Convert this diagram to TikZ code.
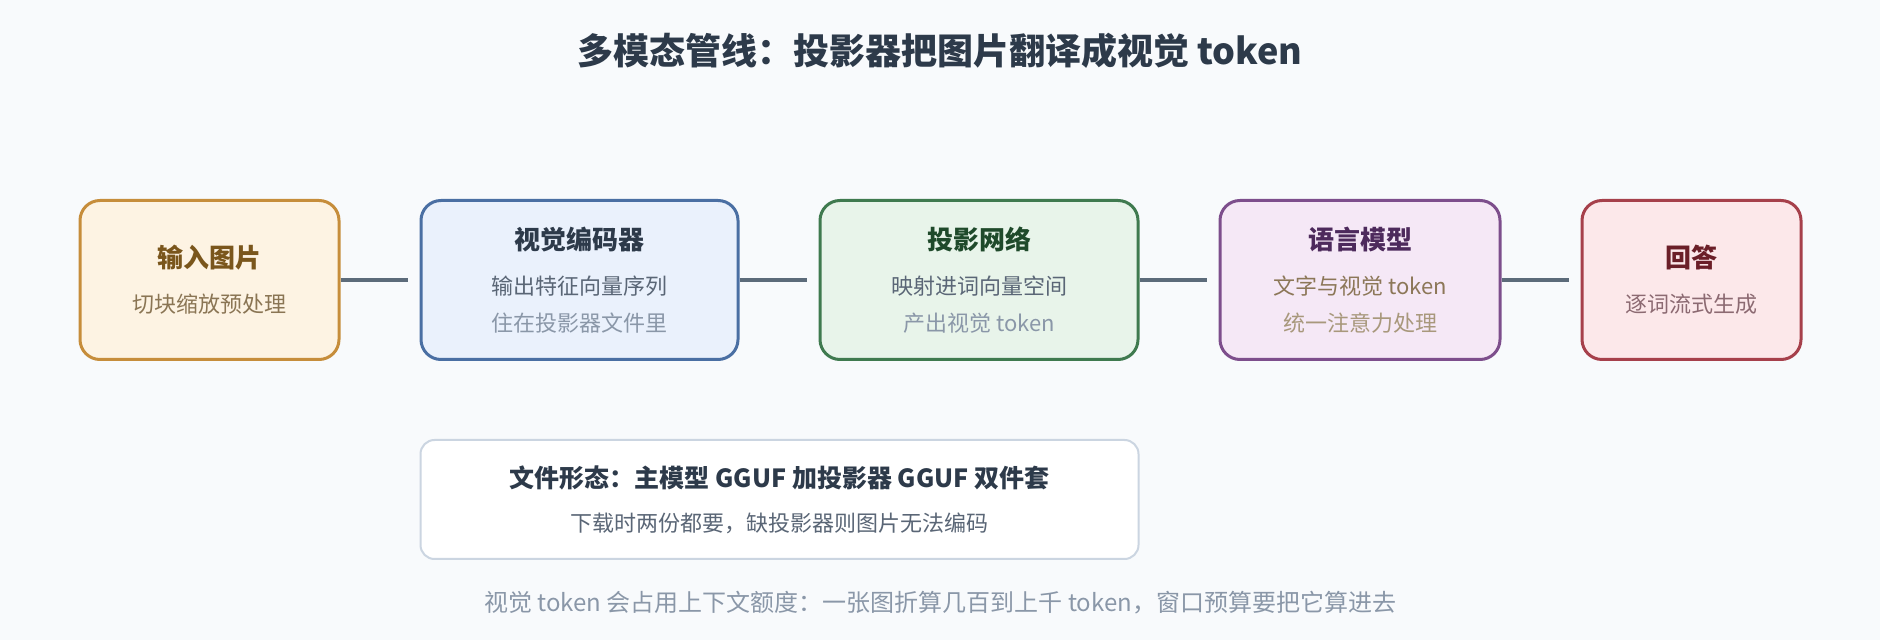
\documentclass[tikz,border=0pt]{standalone}
\usepackage{fontspec}
\setmainfont{Noto Sans CJK SC}
\usetikzlibrary{positioning}
\definecolor{bgpage}{HTML}{F8FAFC}
\definecolor{ink}{HTML}{2D3A4A}
\definecolor{linegray}{HTML}{5C6B7A}
\definecolor{subgray}{HTML}{5A6676}
\definecolor{palegray}{HTML}{8A97A8}
\definecolor{inFill}{HTML}{FDF3E3}
\definecolor{inDraw}{HTML}{C68D3B}
\definecolor{inText}{HTML}{7A561C}
\definecolor{inSub}{HTML}{8A7554}
\definecolor{encFill}{HTML}{EAF1FC}
\definecolor{encDraw}{HTML}{4A6FA3}
\definecolor{projFill}{HTML}{E8F4EA}
\definecolor{projDraw}{HTML}{3F7A4F}
\definecolor{projText}{HTML}{1F4A2B}
\definecolor{lmFill}{HTML}{F5E8F6}
\definecolor{lmDraw}{HTML}{7D4E8C}
\definecolor{lmText}{HTML}{4D2A5C}
\definecolor{lmSub}{HTML}{8C7758}
\definecolor{lmPale}{HTML}{A8987C}
\definecolor{ansFill}{HTML}{FCE8EA}
\definecolor{ansDraw}{HTML}{A6404B}
\definecolor{ansText}{HTML}{6B1F28}
\definecolor{ansSub}{HTML}{8C6A72}
\definecolor{fileDraw}{HTML}{CBD5E1}
\tikzset{node distance=39.5pt,
    stage/.style={rectangle, rounded corners=10pt, line width=1.5pt, minimum height=79.5pt, align=center, inner sep=0pt},
    link/.style={draw=linegray, line width=2pt, shorten >=6pt}}
\newcommand{\stagetitle}[1]{{\fontsize{13}{13}\selectfont\bfseries #1}}

\begin{document}
\begin{tikzpicture}
        \useasboundingbox[fill=bgpage] (0,0) rectangle (940pt,-320pt);
        \node[font=\fontsize{18}{18}\selectfont\bfseries, text=ink] (title) at (470pt,-25.5pt) {多模态管线：投影器把图片翻译成视觉 token};
        \node[stage, draw=inDraw, fill=inFill, minimum width=129.5pt, font=\fontsize{11}{11}\selectfont] (input) at (104.75pt,-140pt)
            {\textcolor{inText}{\stagetitle{输入图片}}\\[11.5pt] \textcolor{inSub}{切块缩放预处理}};
        \node[stage, draw=encDraw, fill=encFill, minimum width=158.5pt, font=\fontsize{11}{11}\selectfont, right=of input] (encoder)
            {\textcolor{ink}{\stagetitle{视觉编码器}}\\[11.5pt] \textcolor{subgray}{输出特征向量序列}\\[7.5pt] \textcolor{palegray}{住在投影器文件里}};
        \node[stage, draw=projDraw, fill=projFill, minimum width=159pt, font=\fontsize{11}{11}\selectfont, right=of encoder] (projector)
            {\textcolor{projText}{\stagetitle{投影网络}}\\[11.5pt] \textcolor{subgray}{映射进词向量空间}\\[7.5pt] \textcolor{palegray}{产出视觉 token}};
        \node[stage, draw=lmDraw, fill=lmFill, minimum width=140pt, font=\fontsize{11}{11}\selectfont, right=of projector] (lm)
            {\textcolor{lmText}{\stagetitle{语言模型}}\\[11.5pt] \textcolor{lmSub}{文字与视觉 token}\\[7.5pt] \textcolor{lmPale}{统一注意力处理}};
        \node[stage, draw=ansDraw, fill=ansFill, minimum width=109.5pt, font=\fontsize{11}{11}\selectfont, right=of lm] (answer)
            {\textcolor{ansText}{\stagetitle{回答}}\\[11.5pt] \textcolor{ansSub}{逐词流式生成}};
        \draw (input) edge[link] (encoder)
            (encoder) edge[link] (projector)
            (projector) edge[link] (lm)
            (lm) edge[link] (answer);
        \node[rectangle, rounded corners=7pt, draw=fileDraw, line width=1pt, fill=white, minimum width=359pt, minimum height=59.5pt, align=center, inner sep=0pt,
            below=39pt of encoder.south west, anchor=north west] (files)
            {\textcolor{ink}{\fontsize{12.5}{12.5}\selectfont\bfseries 文件形态：主模型 GGUF 加投影器 GGUF 双件套}\\[10pt]
             \textcolor{subgray}{\fontsize{11}{11}\selectfont 下载时两份都要，缺投影器则图片无法编码}};
        \node[font=\fontsize{12}{12}\selectfont, text=palegray] (note) at (470pt,-301.5pt) {视觉 token 会占用上下文额度：一张图折算几百到上千 token，窗口预算要把它算进去};
    \end{tikzpicture}
\end{document}
